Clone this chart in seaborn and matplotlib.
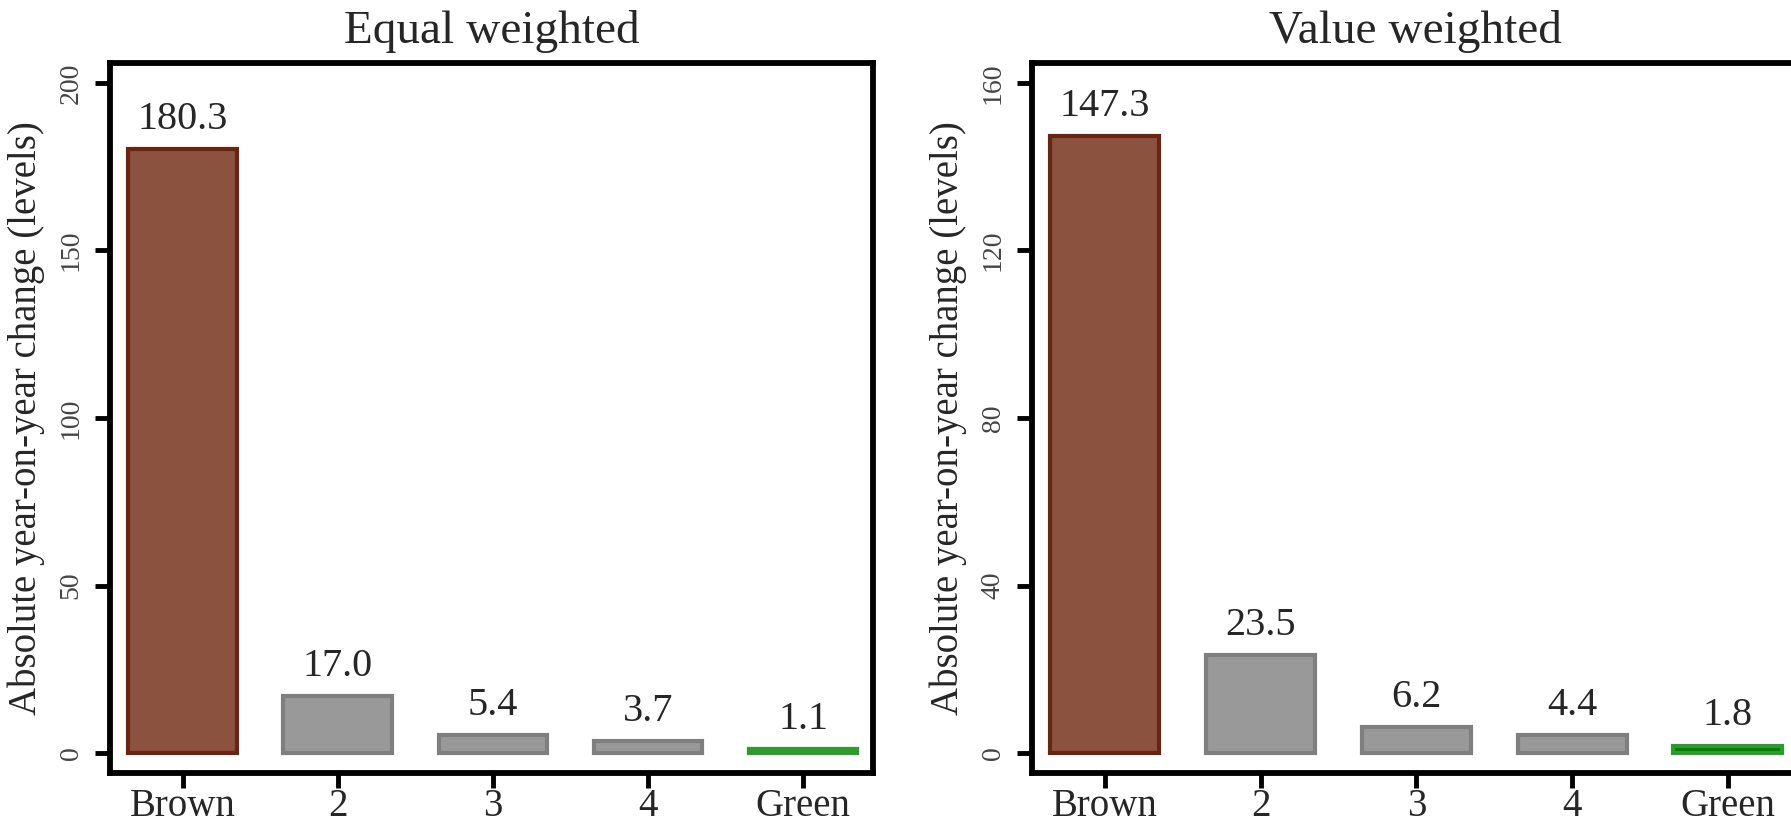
import numpy as np
import pandas as pd
import matplotlib
matplotlib.use("Agg")
import matplotlib.pyplot as plt
import seaborn as sns

# data
categories = ["Brown", "2", "3", "4", "Green"]
equal_weighted = [180.3, 17.0, 5.4, 3.7, 1.1]
value_weighted = [147.3, 23.5, 6.2, 4.4, 1.8]
equal_ticks = [0, 50, 100, 150, 200]
value_ticks = [0, 40, 80, 120, 160]

fill_colors = ["#8b5240", "#999999", "#999999", "#999999", "#008000"]
edge_colors = ["#6b2410", "#7f7f7f", "#7f7f7f", "#7f7f7f", "#2e9b2e"]

sns.set_style("white")
plt.rcParams["font.family"] = ["Liberation Serif", "DejaVu Serif"]

fig = plt.figure(figsize=(17.91, 8.22), dpi=100)
ax1 = fig.add_axes([0.0614, 0.0595, 0.426, 0.864])
ax2 = fig.add_axes([0.5762, 0.0595, 0.4277, 0.864])


def draw(ax, values, ticks, title, ylim):
    df = pd.DataFrame({"cat": categories, "val": values})
    sns.barplot(data=df, x="cat", y="val", hue="cat", order=categories,
                palette=fill_colors, legend=False, width=0.70,
                saturation=1, ax=ax)
    for patch, ec in zip(ax.patches, edge_colors):
        patch.set_edgecolor(ec)
        patch.set_linewidth(3)
    for i, v in enumerate(values):
        ax.annotate(f"{v:.1f}", (i, v), xytext=(0, 8), textcoords="offset points",
                    ha="center", va="bottom", fontsize=29)
    ax.set_ylim(*ylim)
    ax.set_xlim(-0.468, 4.45)
    ax.set_yticks(ticks)
    ax.set_yticklabels([str(t) for t in ticks], rotation=90, va="center",
                       fontsize=20, color="#444444")
    ax.tick_params(axis="x", labelsize=28, length=11, width=3.5, pad=0,
                   bottom=True, color="black")
    ax.tick_params(axis="y", length=11, width=3.5, pad=8, left=True,
                   color="black")
    ax.set_xlabel("")
    ax.set_ylabel("Absolute year-on-year change (levels)", fontsize=28,
                  labelpad=10)
    ax.set_title(title, fontsize=34, pad=14)
    for sp in ax.spines.values():
        sp.set_visible(True)
        sp.set_color("black")
        sp.set_linewidth(4.2)


draw(ax1, equal_weighted, equal_ticks, "Equal weighted", (-5.95, 205.95))
draw(ax2, value_weighted, value_ticks, "Value weighted", (-4.76, 164.76))

fig.savefig("out.png", dpi=100)
